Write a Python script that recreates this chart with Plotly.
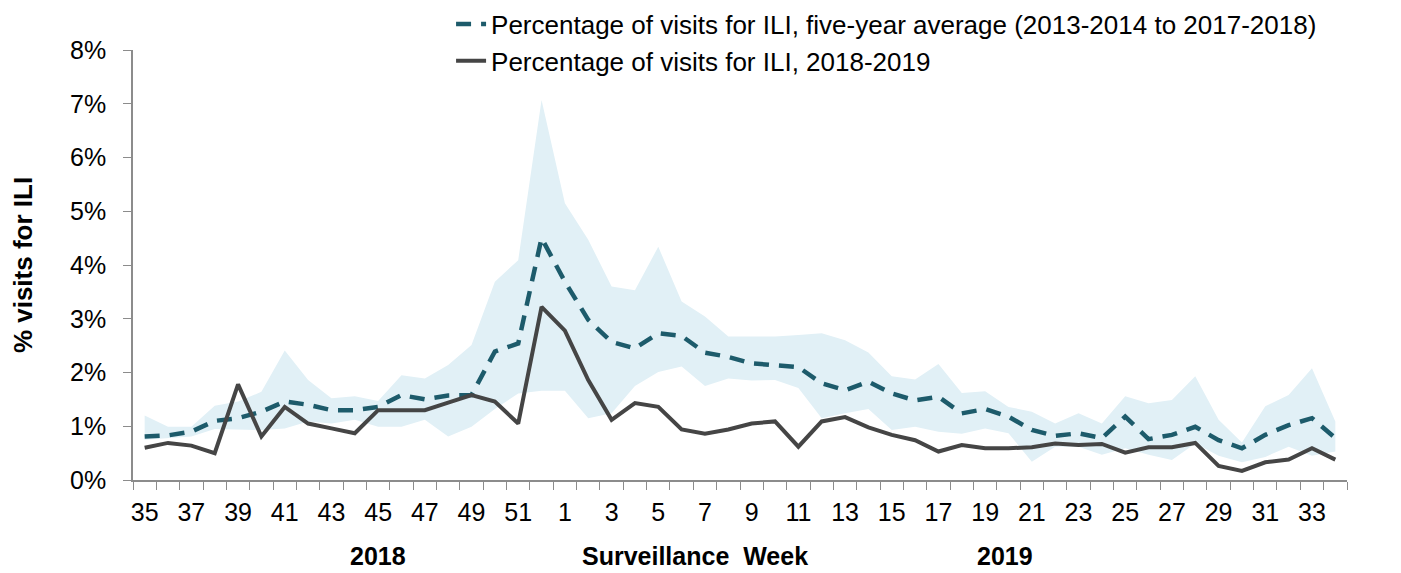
import plotly.graph_objects as go

# surveillance weeks, 2018 wk35 -> 2019 wk34
weeks = [35, 36, 37, 38, 39, 40, 41, 42, 43, 44, 45, 46, 47, 48, 49, 50, 51, 52,
         1, 2, 3, 4, 5, 6, 7, 8, 9, 10, 11, 12, 13, 14, 15, 16, 17, 18, 19, 20,
         21, 22, 23, 24, 25, 26, 27, 28, 29, 30, 31, 32, 33, 34]

# % visits for ILI, 2018-2019 season
ili_2018_19 = [0.60, 0.69, 0.64, 0.50, 1.78, 0.81, 1.36, 1.05, 0.96, 0.87,
               1.30, 1.30, 1.30, 1.44, 1.58, 1.46, 1.05, 3.22, 2.78, 1.86,
               1.12, 1.43, 1.36, 0.94, 0.86, 0.94, 1.05, 1.09, 0.62, 1.09,
               1.17, 0.98, 0.84, 0.74, 0.53, 0.65, 0.59, 0.59, 0.61, 0.68,
               0.65, 0.67, 0.51, 0.61, 0.61, 0.69, 0.26, 0.17, 0.33, 0.38,
               0.59, 0.38]

# five-year average (2013-2014 to 2017-2018)
ili_5yr_avg = [0.81, 0.83, 0.90, 1.10, 1.15, 1.27, 1.46, 1.40, 1.30, 1.30,
               1.36, 1.58, 1.50, 1.57, 1.58, 2.39, 2.54, 4.50, 3.69, 2.98,
               2.57, 2.45, 2.73, 2.68, 2.37, 2.29, 2.17, 2.14, 2.10, 1.80,
               1.67, 1.83, 1.61, 1.48, 1.55, 1.24, 1.32, 1.18, 0.93, 0.82,
               0.87, 0.78, 1.18, 0.76, 0.84, 0.99, 0.74, 0.59, 0.84, 1.02,
               1.15, 0.78]

# min / max range over the five seasons (shaded band)
ili_5yr_max = [1.20, 0.99, 0.99, 1.38, 1.46, 1.64, 2.41, 1.86, 1.52, 1.56,
               1.47, 1.95, 1.89, 2.14, 2.51, 3.69, 4.09, 7.07, 5.15, 4.47,
               3.60, 3.53, 4.34, 3.32, 3.04, 2.67, 2.67, 2.67, 2.70, 2.73,
               2.60, 2.37, 1.93, 1.87, 2.16, 1.62, 1.65, 1.36, 1.27, 1.05,
               1.24, 1.05, 1.56, 1.43, 1.49, 1.93, 1.12, 0.70, 1.37, 1.58,
               2.08, 1.09]
ili_5yr_min = [0.75, 0.78, 0.81, 0.95, 0.94, 0.93, 0.96, 1.09, 1.05, 1.12,
               0.99, 0.99, 1.12, 0.81, 0.99, 1.32, 1.61, 1.66, 1.66, 1.15,
               1.24, 1.75, 2.01, 2.11, 1.75, 1.89, 1.85, 1.86, 1.71, 1.15,
               1.24, 1.32, 0.93, 0.99, 0.90, 0.86, 0.96, 0.87, 0.34, 0.62,
               0.62, 0.47, 0.59, 0.47, 0.37, 0.68, 0.45, 0.33, 0.43, 0.62,
               0.45, 0.53]

y_ticks = [0, 1, 2, 3, 4, 5, 6, 7, 8]

FONT = "Arial, 'Liberation Sans', sans-serif"
AXIS_GREY = "#8c8c8c"

x = list(range(len(weeks)))

fig = go.Figure()

# shaded range
fig.add_trace(go.Scatter(x=x, y=ili_5yr_min, mode="lines", line=dict(width=0),
                         showlegend=False, hoverinfo="skip"))
fig.add_trace(go.Scatter(x=x, y=ili_5yr_max, mode="lines", line=dict(width=0),
                         fill="tonexty", fillcolor="#e1f0f6",
                         showlegend=False, hoverinfo="skip"))

fig.add_trace(go.Scatter(
    x=x, y=ili_5yr_avg, mode="lines",
    name="Percentage of visits for ILI, five-year average (2013-2014 to 2017-2018)",
    line=dict(color="#1d5b6b", width=4.5, dash="15px,10px")))
fig.add_trace(go.Scatter(
    x=x, y=ili_2018_19, mode="lines",
    name="Percentage of visits for ILI, 2018-2019",
    line=dict(color="#454545", width=4)))

# page body adds an 8px margin, so the figure is shifted by 8px
fig.update_layout(
    width=1393, height=565,
    margin=dict(l=125, r=54, t=42, b=93, autoexpand=False),
    paper_bgcolor="white", plot_bgcolor="white",
    font=dict(family=FONT, size=25, color="#000000"),
    showlegend=True,
    legend=dict(x=0.262, y=1.115, xanchor="left", yanchor="top",
                traceorder="normal",
                bgcolor="rgba(0,0,0,0)", font=dict(size=26),
                tracegroupgap=0),
)

fig.update_xaxes(
    range=[-0.5, len(weeks) - 0.5],
    tickmode="array",
    tickvals=x[::2],
    ticktext=[str(w) for w in weeks[::2]],
    ticks="",
    ticklabelstandoff=9,
    showline=True, linecolor=AXIS_GREY, linewidth=1.5,
    showgrid=False, zeroline=False,
    minor=dict(tickmode="array", tickvals=[i - 0.5 for i in range(len(weeks) + 1)],
               ticks="outside", ticklen=8, tickcolor=AXIS_GREY, tickwidth=1.2,
               showgrid=False),
)

fig.update_yaxes(
    range=[0, 8],
    tickmode="array",
    tickvals=y_ticks,
    ticktext=[f"{v}%" for v in y_ticks],
    ticks="outside", ticklen=8, tickcolor=AXIS_GREY, tickwidth=1.2,
    ticklabelstandoff=12,
    showline=True, linecolor=AXIS_GREY, linewidth=1.5,
    showgrid=False, zeroline=False,
    title=dict(text="<b>% visits for ILI</b>", standoff=34, font=dict(size=26)),
)

# year markers and axis caption under the week labels
for txt, xp in [("2018", 0.202), ("Surveillance  Week", 0.463), ("2019", 0.718)]:
    fig.add_annotation(text=f"<b>{txt}</b>", x=xp, y=-0.177, xref="paper", yref="paper",
                       xanchor="center", yanchor="middle", showarrow=False,
                       font=dict(size=25))

fig.write_html("out.html")
